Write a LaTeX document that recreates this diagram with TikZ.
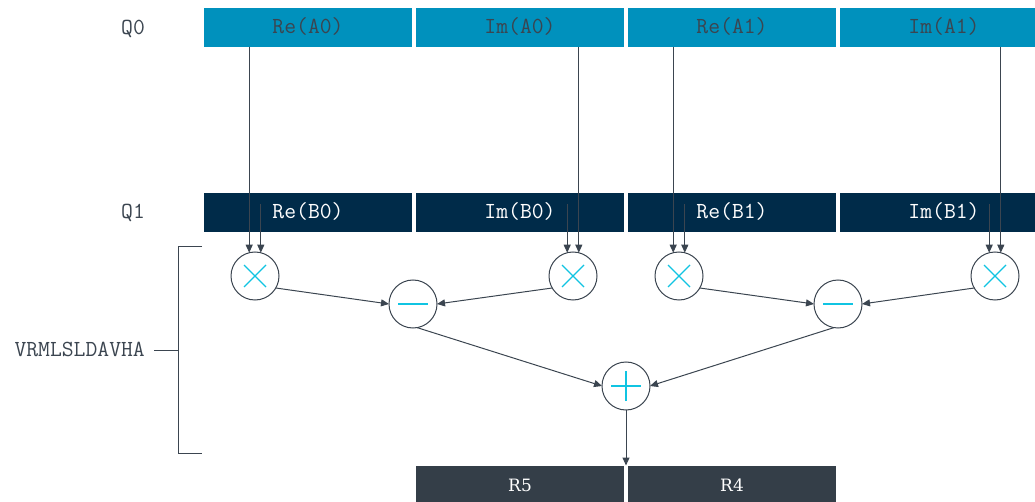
\documentclass[tikz,border=0pt]{standalone}
\usepackage{fontspec}
\newfontfamily\slabfont{DejaVu Serif}
\usetikzlibrary{arrows.meta}
\definecolor{qblue}{HTML}{0091BD}
\definecolor{qnavy}{HTML}{002B49}
\definecolor{rslate}{HTML}{343E48}
\definecolor{txtgray}{HTML}{3B4550}
\definecolor{opcyan}{HTML}{10C4E2}

\begin{document}
\begin{tikzpicture}[x=1pt,y=-1pt,
  lane/.style={rectangle,minimum width=208pt,minimum height=39pt,inner sep=0pt,outer sep=0pt,
    text height=13pt,text depth=0pt,font=\ttfamily\fontsize{23}{23}\selectfont},
  qa/.style={lane,fill=qblue,text=txtgray},
  qb/.style={lane,fill=qnavy,text=white},
  rr/.style={lane,fill=rslate,text=white,font=\slabfont\fontsize{17}{17}\selectfont},
  op/.style={circle,draw=txtgray,line width=1pt,fill=white,minimum size=48pt,inner sep=0pt,outer sep=0pt},
  arr/.style={draw=txtgray,line width=1pt,-{Triangle[length=8pt,width=7pt]}},
  sym/.style={draw=opcyan,line width=1.3pt},
  brk/.style={draw=txtgray,line width=1pt},
  lbl/.style={inner sep=0pt,text height=13pt,text depth=0pt,text=txtgray,font=\ttfamily\fontsize{23}{23}\selectfont}]
  \useasboundingbox (0,0) rectangle (1035,502);
  \clip (0,0) rectangle (1035,502);

  \node[lbl] (q0) at (133,28) {Q0};
  \node[lbl] (q1) at (133,212) {Q1};

  \node[qa] (a0) at (308,27.5) {Re(A0)};
  \node[qa] (a1) at (520,27.5) {Im(A0)};
  \node[qa] (a2) at (732,27.5) {Re(A1)};
  \node[qa] (a3) at (944,27.5) {Im(A1)};

  \node[qb] (b0) at (308,212.5) {Re(B0)};
  \node[qb] (b1) at (520,212.5) {Im(B0)};
  \node[qb] (b2) at (732,212.5) {Re(B1)};
  \node[qb] (b3) at (944,212.5) {Im(B1)};

  \node[rr] (r5) at (520,485) {R5};
  \node[rr] (r4) at (732,485) {R4};

  \node[op] (m0) at (255,276) {};
  \node[op] (m1) at (573,276) {};
  \node[op] (m2) at (679,276) {};
  \node[op] (m3) at (995,276) {};
  \node[op] (s0) at (413,304) {};
  \node[op] (s1) at (838,304) {};
  \node[op] (p) at (626,386) {};

  \draw[sym] ([shift={(-11,-11)}]m0.center) -- ([shift={(11,11)}]m0.center)
    ([shift={(-11,11)}]m0.center) -- ([shift={(11,-11)}]m0.center);
  \draw[sym] ([shift={(-11,-11)}]m1.center) -- ([shift={(11,11)}]m1.center)
    ([shift={(-11,11)}]m1.center) -- ([shift={(11,-11)}]m1.center);
  \draw[sym] ([shift={(-11,-11)}]m2.center) -- ([shift={(11,11)}]m2.center)
    ([shift={(-11,11)}]m2.center) -- ([shift={(11,-11)}]m2.center);
  \draw[sym] ([shift={(-11,-11)}]m3.center) -- ([shift={(11,11)}]m3.center)
    ([shift={(-11,11)}]m3.center) -- ([shift={(11,-11)}]m3.center);
  \draw[sym] ([xshift=-15pt]s0.center) -- ([xshift=15pt]s0.center);
  \draw[sym] ([xshift=-15pt]s1.center) -- ([xshift=15pt]s1.center);
  \draw[sym] ([xshift=-15pt]p.center) -- ([xshift=15pt]p.center)
    ([yshift=-15pt]p.center) -- ([yshift=15pt]p.center);

  \draw[arr] (a0.south -| m0.104) -- (m0.104);
  \draw[arr] ([yshift=8.5pt]b0.center -| m0.76) -- (m0.76);
  \draw[arr] (a1.south -| m1.76) -- (m1.76);
  \draw[arr] ([yshift=8.5pt]b1.center -| m1.104) -- (m1.104);
  \draw[arr] (a2.south -| m2.104) -- (m2.104);
  \draw[arr] ([yshift=8.5pt]b2.center -| m2.76) -- (m2.76);
  \draw[arr] (a3.south -| m3.76) -- (m3.76);
  \draw[arr] ([yshift=8.5pt]b3.center -| m3.104) -- (m3.104);

  \draw[arr] (m0.-30) -- (s0.west);
  \draw[arr] (m1.210) -- (s0.east);
  \draw[arr] (m2.-30) -- (s1.west);
  \draw[arr] (m3.210) -- (s1.east);
  \draw[arr] (s0.-80) -- (p.west);
  \draw[arr] (s1.260) -- (p.east);
  \draw[arr] (p.south) -- (p.south |- r5.north);

  \node[lbl,anchor=east] (vr) at (145,350) {VRMLSLDAVHA};
  \coordinate (bk) at (178,350);
  \draw[brk] (202,247) -- (178,247) -- (178,453) -- (202,453);
  \draw[brk] ([xshift=9pt]vr.east) -- (bk);
\end{tikzpicture}
\end{document}
